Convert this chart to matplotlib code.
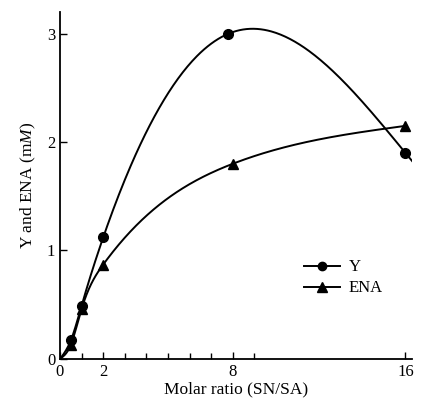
import numpy as np
import matplotlib
matplotlib.use("Agg")
import matplotlib.pyplot as plt

# molar ratio (SN/SA) and measured values (mM)
ratio_y = [0.5, 1, 2, 7.8, 16]
y_vals = [0.17, 0.49, 1.12, 3.0, 1.9]
ratio_ena = [0.5, 1, 2, 8, 16]
ena_vals = [0.13, 0.46, 0.87, 1.80, 2.15]

x_ticks = [0, 2, 8, 16]
x_minor = [1, 3, 4, 5, 6, 7, 9]
y_ticks = [0, 1, 2, 3]

plt.rcParams['font.family'] = ['Liberation Serif', 'DejaVu Serif']
plt.rcParams['mathtext.fontset'] = 'custom'
plt.rcParams['mathtext.rm'] = 'Liberation Serif'
plt.rcParams['mathtext.it'] = 'Liberation Serif:italic'


def natural_spline(x, y, xs):
    # natural cubic spline through the points, used only to draw the smooth line
    x = np.asarray(x, float)
    y = np.asarray(y, float)
    n = len(x)
    h = np.diff(x)
    A = np.zeros((n, n))
    b = np.zeros(n)
    A[0, 0] = A[-1, -1] = 1
    for i in range(1, n - 1):
        A[i, i - 1] = h[i - 1]
        A[i, i] = 2 * (h[i - 1] + h[i])
        A[i, i + 1] = h[i]
        b[i] = 3 * ((y[i + 1] - y[i]) / h[i] - (y[i] - y[i - 1]) / h[i - 1])
    c = np.linalg.solve(A, b)
    idx = np.clip(np.searchsorted(x, xs) - 1, 0, n - 2)
    dx = xs - x[idx]
    bb = (y[idx + 1] - y[idx]) / h[idx] - h[idx] * (2 * c[idx] + c[idx + 1]) / 3
    d = (c[idx + 1] - c[idx]) / (3 * h[idx])
    return y[idx] + bb * dx + c[idx] * dx ** 2 + d * dx ** 3


fig = plt.figure(figsize=(4.21, 4.01), dpi=100)
ax = fig.add_axes([0.1425, 0.105, 0.836, 0.865])

xs = np.linspace(0, 16.35, 300)
ax.plot(xs, natural_spline([0] + ratio_y, [0] + y_vals, xs), color='black', lw=1.4)
xs2 = np.linspace(0, 16, 300)
ax.plot(xs2, natural_spline([0] + ratio_ena, [0] + ena_vals, xs2), color='black', lw=1.4)

ax.plot(ratio_y, y_vals, 'o', color='black', ms=7)
ax.plot(ratio_ena, ena_vals, '^', color='black', ms=7.5)

# legend proxies
ax.plot([], [], '-o', color='black', ms=6, lw=1.4, label='Y')
ax.plot([], [], '-^', color='black', ms=7, lw=1.4, label='ENA')
handles, labels = ax.get_legend_handles_labels()
ax.legend(handles, labels, loc='upper left', bbox_to_anchor=(0.65, 0.33),
          frameon=False, fontsize=12, handlelength=2.2, handletextpad=0.5,
          labelspacing=0.3)

ax.set_xlim(0, 16.3)
ax.set_ylim(0, 3.2)
ax.set_xticks(x_ticks)
ax.set_xticks(x_minor, minor=True)
ax.set_yticks(y_ticks)
ax.tick_params(direction='in', length=5, width=1, labelsize=12)
ax.tick_params(which='minor', direction='in', length=4, width=1)
for s in ['top', 'right']:
    ax.spines[s].set_visible(False)
for s in ['left', 'bottom']:
    ax.spines[s].set_linewidth(1.3)

ax.set_xlabel('Molar ratio (SN/SA)', fontsize=12.5, labelpad=1)
ax.set_ylabel('Y and ENA (m$\\mathit{M}$)', fontsize=12.5, labelpad=6)

fig.savefig('out.png', dpi=100)
